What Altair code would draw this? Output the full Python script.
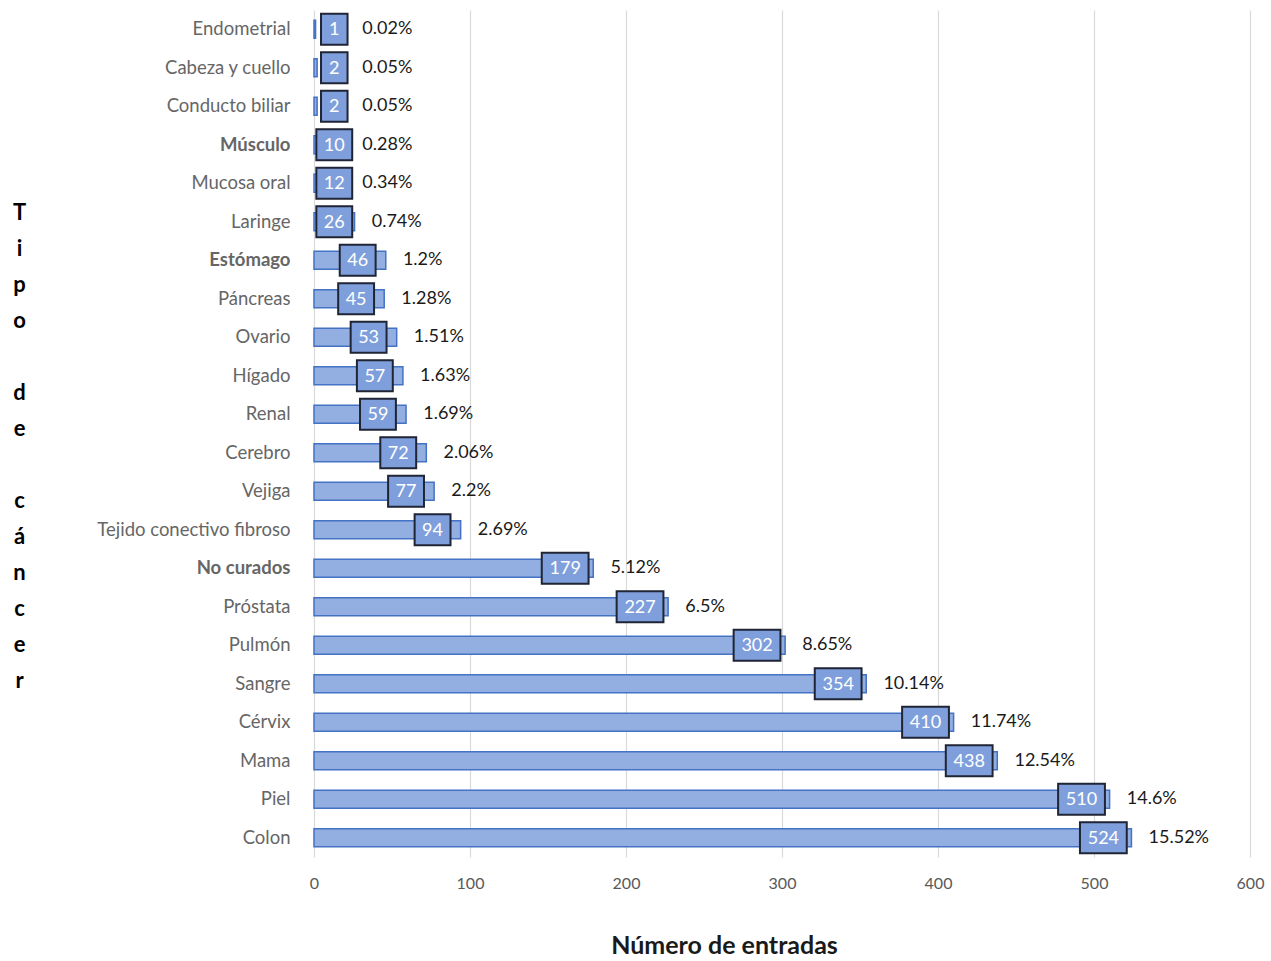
import altair as alt
import pandas as pd

categories = ["Endometrial", "Cabeza y cuello", "Conducto biliar", "Músculo", "Mucosa oral",
              "Laringe", "Estómago", "Páncreas", "Ovario", "Hígado", "Renal", "Cerebro",
              "Vejiga", "Tejido conectivo fibroso", "No curados", "Próstata", "Pulmón",
              "Sangre", "Cérvix", "Mama", "Piel", "Colon"]
counts = [1, 2, 2, 10, 12, 26, 46, 45, 53, 57, 59, 72, 77, 94, 179, 227, 302, 354, 410, 438, 510, 524]
percents = ["0.02%", "0.05%", "0.05%", "0.28%", "0.34%", "0.74%", "1.2%", "1.28%", "1.51%",
            "1.63%", "1.69%", "2.06%", "2.2%", "2.69%", "5.12%", "6.5%", "8.65%", "10.14%",
            "11.74%", "12.54%", "14.6%", "15.52%"]
x_ticks = [0, 100, 200, 300, 400, 500, 600]

df = pd.DataFrame({"cat": categories, "n": counts, "pct": percents})

FONT = "Lato"
ZW = "\u200b"

base = alt.Chart(df).transform_calculate(
    boxc="max(datum.n - 18, 13)",
    halfw="datum.n < 10 ? 8.5 : (datum.n < 100 ? 11.5 : 15)",
    pctx="max(datum.n + 11, 31)",
).transform_calculate(
    boxl="datum.boxc - datum.halfw",
    boxr="datum.boxc + datum.halfw",
)

y_enc = alt.Y("cat:N", sort=None,
              title=["T", "i", "p", "o", ZW, "d", "e", ZW, "c", "á", "n", "c", "e", "r"],
              scale=alt.Scale(paddingInner=0.5, paddingOuter=0.25),
              axis=alt.Axis(labelFont=FONT, labelFontSize=18.5, labelColor="#666666",
                            labelPadding=24, ticks=False, domain=False, labelLimit=300,
                            labelFontWeight={"condition": {"test": "indexof(['Músculo','Estómago','No curados'], datum.value) >= 0", "value": "bold"}, "value": "normal"},
                            titleAngle=0, titleFont=FONT, titleFontSize=22, titleFontWeight="bold",
                            titleColor="#000000", titleLineHeight=36, titleAlign="center",
                            titleBaseline="top", titleX=-295, titleY=192))

x_scale = alt.Scale(domain=[0, 600], nice=False)

bars = base.mark_bar(size=18, color="#93AEE0", stroke="#4472C4", strokeWidth=1.5).encode(
    x=alt.X("n:Q", scale=x_scale, title="Número de entradas",
            axis=alt.Axis(values=x_ticks, grid=True, gridColor="#D9D9D9", gridWidth=1.2,
                          ticks=False, domain=False, labelFont=FONT, labelFontSize=16,
                          labelColor="#595959", labelPadding=18, labelFlush=False,
                          titleFont=FONT, titleFontSize=25, titleFontWeight="bold",
                          titleColor="#1a1a1a", titlePadding=42, titleX=410)),
    y=y_enc,
)

boxes = base.mark_bar(size=31, color="#7F9FDC", stroke="#1F2535", strokeWidth=2).encode(
    x=alt.X("boxl:Q", scale=x_scale),
    x2="boxr:Q",
    y=alt.Y("cat:N", sort=None),
)

box_text = base.mark_text(font=FONT, fontSize=18, color="white", align="center", baseline="middle", dy=1).encode(
    x=alt.X("boxc:Q", scale=x_scale),
    y=alt.Y("cat:N", sort=None),
    text="n:Q",
)

pct_text = base.mark_text(font=FONT, fontSize=18, color="#1a1a1a", align="left", baseline="middle").encode(
    x=alt.X("pctx:Q", scale=x_scale),
    y=alt.Y("cat:N", sort=None),
    text="pct:N",
)

chart = alt.layer(bars, boxes, box_text, pct_text).properties(
    width=936, height=847, autosize="none", background="white",
    padding={"left": 314, "top": 10, "right": 21, "bottom": 104},
).configure_view(strokeWidth=0, stroke="transparent")

chart.save("out.html", embed_options={"renderer": "svg", "actions": False})
